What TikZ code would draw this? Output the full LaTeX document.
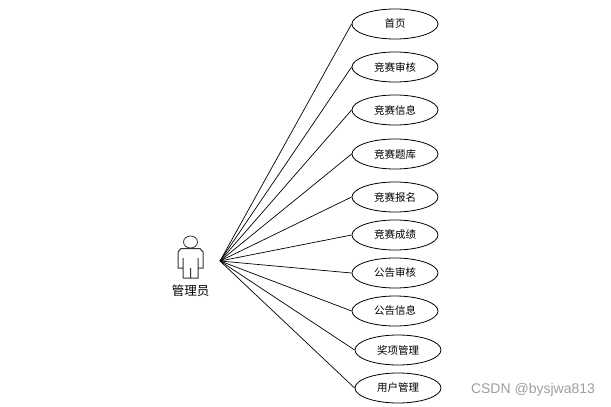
\documentclass[tikz,border=0pt]{standalone}
\usepackage{fontspec}
\setmainfont{Liberation Sans}
\newfontfamily\cjk{Noto Sans CJK SC}
\tikzset{
	usecase/.style={draw, line width=0.8pt, ellipse, minimum width=86pt, minimum height=30pt, inner sep=0pt, font=\cjk\fontsize{10.5}{10.5}\selectfont},
	lien/.style={draw=black, line width=0.7pt},
}
\usetikzlibrary{shapes.geometric}
\begin{document}
\begin{tikzpicture}[x=1pt, y=-1pt]
	\useasboundingbox (0,0) rectangle (611,407);
	%Cas d'utilisation
	\node[usecase] (Accueil) at (395,24) {首页};
	\node[usecase] (Audit) at (395,67) {竞赛审核};
	\node[usecase] (Infos) at (395,110) {竞赛信息};
	\node[usecase] (Banque) at (395,154) {竞赛题库};
	\node[usecase] (Inscription) at (395,197) {竞赛报名};
	\node[usecase] (Notes) at (395,235) {竞赛成绩};
	\node[usecase] (AuditAvis) at (395,273) {公告审核};
	\node[usecase] (InfosAvis) at (395,311) {公告信息};
	\node[usecase] (Prix) at (398,350) {奖项管理};
	\node[usecase] (Comptes) at (398,388) {用户管理};
	%Acteur
	\draw[line width=0.8pt, draw=black!80] (190.5,242) ellipse (7 and 6);
	\draw[line width=1pt, draw=black!80] (183,278) -- (183,258) (183,268) -- (178,268) -- (178,252) -- (181,248.5) -- (200,248.5) -- (203,252) -- (203,268) -- (198,268) (198,258) -- (198,278) -- (183,278) (190.5,278) -- (190.5,268);
	\node[inner sep=0pt, font=\cjk\fontsize{12.5}{12.5}\selectfont] (Admin) at (190.5,291) {管理员};
	\coordinate (Centre) at (220,261);
	%Liens
	\draw[lien] (Centre) -- (Accueil.west);
	\draw[lien] (Centre) -- (Audit.west);
	\draw[lien] (Centre) -- (Infos.west);
	\draw[lien] (Centre) -- (Banque.west);
	\draw[lien] (Centre) -- (Inscription.west);
	\draw[lien] (Centre) -- (Notes.west);
	\draw[lien] (Centre) -- (AuditAvis.west);
	\draw[lien] (Centre) -- (InfosAvis.west);
	\draw[lien] (Centre) -- (Prix.west);
	\draw[lien] (Centre) -- (Comptes.west);
	%Filigrane
	\node[inner sep=0pt, text=black!38, font=\fontsize{14}{14}\selectfont] (Marque) at (533,390) {CSDN @bysjwa813};
\end{tikzpicture}
\end{document}
